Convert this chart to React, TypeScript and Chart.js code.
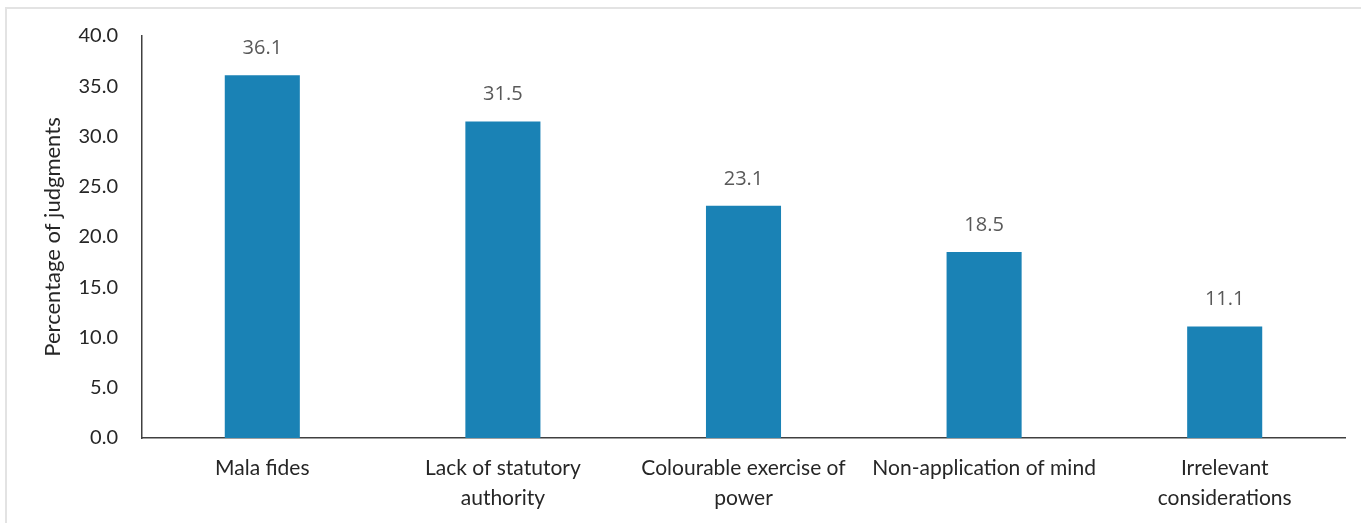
import React, { useEffect, useRef } from "react";
import { Chart, registerables } from "chart.js";

Chart.register(...registerables);

const categories: (string | string[])[] = [
  "Mala fides",
  ["Lack of statutory", "authority"],
  ["Colourable exercise of", "power"],
  "Non-application of mind",
  ["Irrelevant", "considerations"],
];
const values: number[] = [36.1, 31.5, 23.1, 18.5, 11.1];
const yTicks: number[] = [0, 5, 10, 15, 20, 25, 30, 35, 40];
const yTitle = "Percentage of judgments";

const valueLabels = {
  id: "valueLabels",
  afterDatasetsDraw(chart: any) {
    const ctx = chart.ctx;
    const meta = chart.getDatasetMeta(0);
    ctx.save();
    ctx.font = "20px 'Open Sans', sans-serif";
    ctx.fillStyle = "#595959";
    ctx.textAlign = "center";
    ctx.textBaseline = "middle";
    meta.data.forEach((bar: any, i: number) => {
      ctx.fillText(values[i].toFixed(1), bar.x, bar.y - 27);
    });
    ctx.restore();
  },
};

export default function App() {
  const ref = useRef<HTMLCanvasElement>(null);
  useEffect(() => {
    if (!ref.current) return;
    const chart = new Chart(ref.current, {
      type: "bar",
      data: {
        labels: categories,
        datasets: [
          {
            data: values,
            backgroundColor: "#1a82b5",
            categoryPercentage: 1,
            barPercentage: 0.312,
          },
        ],
      },
      options: {
        responsive: false,
        animation: false,
        layout: { padding: { left: 40, top: 31, right: 16, bottom: 0 } },
        plugins: { legend: { display: false }, tooltip: { enabled: false } },
        scales: {
          x: {
            grid: { display: false, drawTicks: false },
            border: { display: true, color: "#404040", width: 1.5 },
            afterFit: (scale: any) => {
              scale.height = 85;
            },
            ticks: {
              color: "#262626",
              font: { family: "Lato, sans-serif", size: 21, lineHeight: 1.45 },
              maxRotation: 0,
              autoSkip: false,
              padding: 15,
            },
          },
          y: {
            min: 0,
            max: 40,
            afterBuildTicks: (scale: any) => {
              scale.ticks = yTicks.map((v) => ({ value: v }));
            },
            afterFit: (scale: any) => {
              scale.width = 102;
            },
            grid: { display: false, drawTicks: false },
            border: { display: true, color: "#404040", width: 1.5 },
            title: {
              display: true,
              text: yTitle,
              color: "#262626",
              font: { family: "Lato, sans-serif", size: 22 },
              padding: { top: 0, bottom: 0 },
            },
            ticks: {
              color: "#262626",
              font: { family: "Lato, sans-serif", size: 20 },
              padding: 24,
              callback: (v: any) => Number(v).toFixed(1),
            },
          },
        },
      },
      plugins: [valueLabels],
    });
    return () => chart.destroy();
  }, []);
  return (
    <div style={{ position: "absolute", left: 0, top: 0, width: 1361, height: 523, background: "#fff", overflow: "hidden" }}>
      <div
        style={{
          position: "absolute",
          left: 5,
          top: 7,
          width: 1400,
          height: 600,
          borderTop: "2px solid #e3e3e3",
          borderLeft: "2px solid #e3e3e3",
          boxSizing: "border-box",
        }}
      />
      <canvas ref={ref} width={1361} height={523} style={{ position: "absolute", left: 0, top: 0, width: 1361, height: 523 }} />
    </div>
  );
}
